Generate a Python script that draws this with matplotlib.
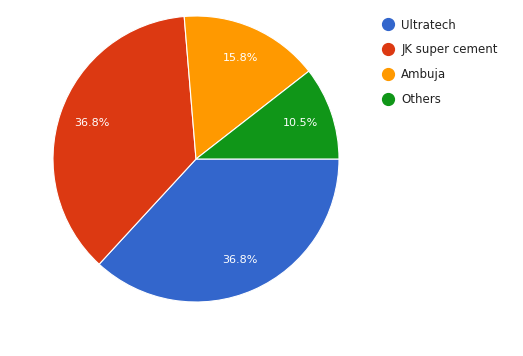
import matplotlib.pyplot as plt
from matplotlib.lines import Line2D

# data
labels = ['Ultratech', 'JK super cement', 'Ambuja', 'Others']
counts = [7, 7, 3, 2]
colors = ['#3366cc', '#dc3912', '#ff9900', '#109618']

W, H = 523, 356
fig = plt.figure(figsize=(W / 100, H / 100), dpi=100)

# pie centre (196, 159) px from top-left, radius 143 px
cx, cy, r = 196, 159, 143
ax = fig.add_axes([(cx - r) / W, (H - cy - r) / H, 2 * r / W, 2 * r / H])
wedges, texts, autotexts = ax.pie(
    counts, colors=colors, startangle=0, counterclock=False,
    autopct='%1.1f%%', pctdistance=0.77,
    wedgeprops=dict(edgecolor='white', linewidth=0.8),
    textprops=dict(color='white', fontsize=8))
ax.set_xlim(-1, 1)
ax.set_ylim(-1, 1)
ax.set_aspect('auto')
ax.axis('off')

handles = [Line2D([0], [0], marker='o', color='none', markerfacecolor=c,
                  markeredgecolor=c, markersize=8.5) for c in colors]
fig.legend(handles, labels, loc='upper left', bbox_to_anchor=(370 / W, 1 - 8 / H),
           frameon=False, fontsize=8.5, labelcolor='#222222',
           handletextpad=0.55, labelspacing=1.0, handlelength=1.2)

plt.savefig('out.png', dpi=100)
